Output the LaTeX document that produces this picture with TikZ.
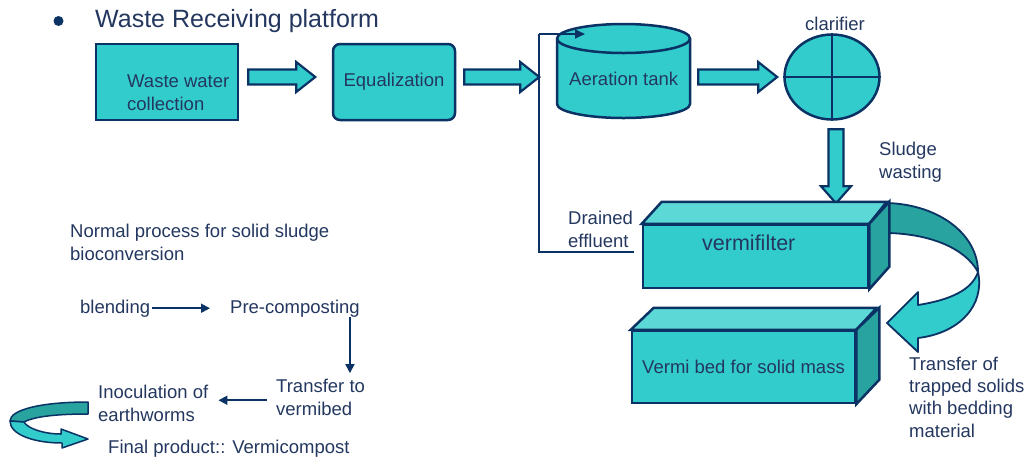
\documentclass[tikz,border=0pt]{standalone}
\usepackage{fontspec}
\setmainfont{Liberation Sans}
\usetikzlibrary{shapes.geometric,arrows.meta,calc}

\definecolor{tealc}{RGB}{51,204,204}
\definecolor{tealtop}{RGB}{92,216,214}
\definecolor{tealside}{RGB}{41,163,160}
\definecolor{navyc}{RGB}{10,50,100}
\definecolor{txtc}{RGB}{35,55,95}

\newcommand\bodyfont{\fontsize{18.5}{22.3}\selectfont}

\tikzset{
  txt/.style={inner sep=0pt, text=txtc, font=\bodyfont, align=left},
  box/.style={draw=navyc, line width=2.5pt, fill=tealc, inner sep=0pt},
  blk/.style={draw=navyc, line width=2.2pt, fill=tealc},
  thinarr/.style={draw=navyc, line width=1.8pt, -{Triangle[length=9pt,width=9pt]}},
  feed/.style={draw=navyc, line width=1.6pt},
  band/.style={draw=navyc, line width=1.8pt, line join=round},
  pics/rblk/.style={code={
    \path[blk] (0,-7.5) -- (#1-19,-7.5) -- (#1-19,-15) -- (#1,0)
      -- (#1-19,15) -- (#1-19,7.5) -- (0,7.5) -- cycle;}},
  pics/dblk/.style={code={
    \path[blk] (-7.5,0) -- (-7.5,#1-17) -- (-15,#1-17) -- (0,#1)
      -- (15,#1-17) -- (7.5,#1-17) -- (7.5,0) -- cycle;}}
}

\begin{document}
\begin{tikzpicture}[x=1pt,y=-1pt]
\useasboundingbox (0,0) rectangle (1032,459);

% heading
\node[circle, fill=navyc, inner sep=0pt, minimum size=10pt] (bullet) at (58.5,21) {};
\node[txt, font=\fontsize{25}{30}\selectfont, anchor=base west] (title) at (95,27) {Waste Receiving platform};

% upper treatment line
\node[box, minimum width=142pt, minimum height=76pt] (wwc) at (167,82) {};
\node[txt, anchor=base west] (wwct) at (127,110) {Waste water\\collection};
\node[box, rounded corners=7pt, minimum width=122pt, minimum height=76pt,
      text=txtc, font=\bodyfont] (eq) at (394,82) {Equalization};

% feed line from the vermifilter back to the aeration tank
\coordinate (fbstart) at (634,252);
\draw[feed] (fbstart) -- (539,252) -- (539,34) coordinate (fbtop);

% aeration tank (cylinder)
\node[inner sep=0pt, minimum width=133pt, minimum height=94pt] (tankbody) at (623.5,71) {};
\path[box] (557,38.5) -- (557,104) arc (180:0:66.5 and 14) -- (690,38.5)
  arc (0:-180:66.5 and 14.5) -- cycle;
\draw[navyc, line width=2.5pt] (557,38.5) arc (180:0:66.5 and 14.5);
\node[txt, anchor=base west] (tank) at (569,85) {Aeration tank};
\draw[feed, -{Triangle[length=10pt,width=9pt]}] (fbtop) -- (585,34);

% clarifier
\node[ellipse, draw=navyc, line width=2.5pt, fill=tealc, inner sep=0pt,
      minimum width=95pt, minimum height=85pt] (clar) at (832,77) {};
\draw[navyc, line width=2pt] (clar.north) -- (clar.south) (clar.west) -- (clar.east);
\node[txt, anchor=base west] (clart) at (805,30) {clarifier};

% block arrows
\pic at ($(wwc.east)+(9,-5)$) {rblk=67};
\pic at ($(eq.east)+(8,-5)$) {rblk=75};
\pic at ($(tankbody.east)+(8,6)$) {rblk=79};
\pic at ($(clar.south)+(4,8.5)$) {dblk=74};

\node[txt, anchor=base west] (sw) at (879,178) {Sludge\\wasting};
\node[txt, anchor=base west] (de) at (568,247) {Drained\\effluent};

% transfer ribbon from vermifilter to vermi bed
\path[band, fill=tealside] (888,203) .. controls (940,205) and (978,235) .. (978,272)
  .. controls (965,248) and (930,234) .. (888,233) -- cycle;
\path[band, fill=tealc] (978,272) .. controls (985,305) and (960,333) .. (918,338)
  -- (918,352) -- (887,323) -- (918,292) -- (918,305)
  .. controls (950,300) and (972,290) .. (978,272) -- cycle;

% vermifilter box
\node[box, minimum width=225pt, minimum height=63pt] (vf) at (755.5,256.5) {};
\path[box, fill=tealtop] (vf.north west) -- ++(20,-22) -- ++(225,0) -- (vf.north east) -- cycle;
\path[box, fill=tealside] (vf.north east) -- ++(20,-22) -- ++(0,65) -- (vf.south east) -- cycle;
\node[txt, font=\fontsize{21.5}{25}\selectfont, anchor=base west] (vft) at (702,250) {vermifilter};

% vermi bed box
\node[box, minimum width=223pt, minimum height=72pt, text=txtc, font=\bodyfont] (vb) at (743.5,367) {Vermi bed for solid mass};
\path[box, fill=tealtop] (vb.north west) -- ++(23,-22) -- ++(223,0) -- (vb.north east) -- cycle;
\path[box, fill=tealside] (vb.north east) -- ++(23,-22) -- ++(0,72) -- (vb.south east) -- cycle;

\node[txt, anchor=base west] (tr) at (909,437) {Transfer of\\trapped solids\\with bedding\\material};

% solid sludge route
\node[txt, anchor=base west] (np) at (70,260) {Normal process for solid sludge\\bioconversion};
\node[txt, anchor=base west] (blend) at (80,313) {blending};
\node[txt, anchor=base west] (precomp) at (230,313) {Pre-composting};
\node[txt, anchor=base west] (transfer) at (276,415) {Transfer to\\vermibed};
\node[txt, anchor=base west] (inoc) at (98,421) {Inoculation of\\earthworms};
\node[txt, anchor=base west] (final) at (108,453) {Final product:: Vermicompost};

\draw[thinarr] ([xshift=2pt]blend.east) -- ([xshift=-20pt]precomp.west);
\draw[thinarr] ($(precomp.south east)+(-10,0)$) -- ($(precomp.south east |- transfer.north)+(-10,-6)$);
\draw[thinarr] ($(transfer.west)+(-9,3)$) -- ($(inoc.east |- transfer.west)+(10,3)$);

% small ribbon arrow
\path[band, line width=1.5pt, fill=tealside] (88,402) .. controls (40,402) and (10,410) .. (10,421)
  -- (24,422) .. controls (35,416) and (60,414) .. (88,414) -- cycle;
\path[band, line width=1.5pt, fill=tealc] (10,421) .. controls (10,435) and (35,443) .. (62,443)
  -- (62,448) -- (88,439) -- (61,429) -- (61,434)
  .. controls (45,434) and (28,429) .. (24,422) -- cycle;
\end{tikzpicture}
\end{document}
